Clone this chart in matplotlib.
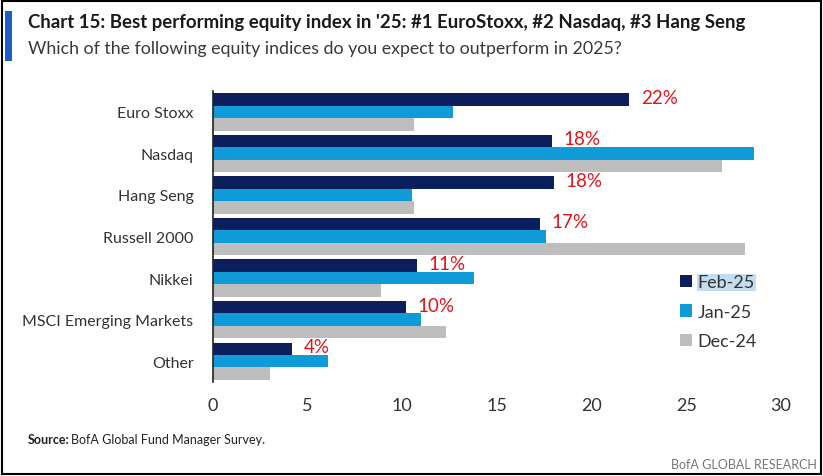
#generate graph
import matplotlib.pyplot as plt
import matplotlib.patches as patches
import numpy as np

categories = ["Euro Stoxx", "Nasdaq", "Hang Seng", "Russell 2000", "Nikkei",
              "MSCI Emerging Markets", "Other"]
feb25 = [22, 17.9, 18, 17.3, 10.8, 10.2, 4.2]
jan25 = [12.7, 28.6, 10.5, 17.6, 13.8, 11.0, 6.1]
dec24 = [10.6, 26.9, 10.6, 28.1, 8.9, 12.3, 3.0]
feb_labels = ["22%", "18%", "18%", "17%", "11%", "10%", "4%"]
series_names = ["Feb-25", "Jan-25", "Dec-24"]
xticks = [0, 5, 10, 15, 20, 25, 30]

colors = ["#0b1f5c", "#0f9bd7", "#bdbdbd"]
plt.rcParams["font.family"] = ["Lato", "DejaVu Sans"]

fig = plt.figure(figsize=(8.23, 4.77), dpi=100)

# border and title
fig.patches.append(patches.Rectangle((0.003, 0.005), 0.994, 0.99, transform=fig.transFigure,
                                     fill=False, edgecolor="black", linewidth=1.5))
fig.patches.append(patches.Rectangle((0.006, 0.87), 0.009, 0.105, transform=fig.transFigure,
                                     facecolor="#1d5fc4", edgecolor="none"))
fig.text(0.034, 0.952, "Chart 15: Best performing equity index in '25: #1 EuroStoxx, #2 Nasdaq, #3 Hang Seng",
         fontsize=13.4, fontweight="bold", color="#1a1a1a", va="center")
fig.text(0.034, 0.898, "Which of the following equity indices do you expect to outperform in 2025?",
         fontsize=12.8, color="#3a3a3a", va="center")

ax = fig.add_axes([0.2588, 0.197, 0.690, 0.610])
y = np.arange(len(categories))
h = 0.3
ax.barh(y - h, feb25, height=h, color=colors[0], label=series_names[0])
ax.barh(y, jan25, height=h, color=colors[1], label=series_names[1])
ax.barh(y + h, dec24, height=h, color=colors[2], label=series_names[2])

for yi, v, lab in zip(y, feb25, feb_labels):
    ax.text(v + 0.6, yi - h - 0.05, lab, color="#e3131b", fontsize=13.5, va="center", ha="left")

ax.set_ylim(6.5, -0.5)
ax.set_xlim(0, 30)
ax.set_yticks(y)
ax.set_yticklabels(categories, fontsize=11.5, color="#333333")
ax.set_xticks(xticks)
ax.set_xticklabels([str(t) for t in xticks], fontsize=13, color="#333333")
ax.tick_params(axis="both", length=0)
ax.tick_params(axis="y", pad=14)
ax.tick_params(axis="x", pad=11)
for s in ["top", "right", "bottom"]:
    ax.spines[s].set_visible(False)
ax.spines["left"].set_color("#222222")
ax.spines["left"].set_linewidth(1.2)

leg = ax.legend(loc="upper left", bbox_to_anchor=(0.822, 0.37), frameon=False,
                fontsize=13, handlelength=0.7, handleheight=0.7, handletextpad=0.3,
                labelspacing=0.75, borderpad=0, borderaxespad=0)
for t in leg.get_texts():
    t.set_color("#333333")
leg.get_texts()[0].set_bbox(dict(facecolor="#c5dcef", edgecolor="none", pad=0.5))

fig.text(0.034, 0.077, "Source:", fontsize=9, fontweight="bold", color="#222222", va="center")
fig.text(0.086, 0.077, "BofA Global Fund Manager Survey.", fontsize=9, color="#222222", va="center")
fig.text(0.993, 0.025, "BofA GLOBAL RESEARCH", fontsize=9, color="#777777", ha="right", va="center")

plt.savefig("out.png", dpi=100)
